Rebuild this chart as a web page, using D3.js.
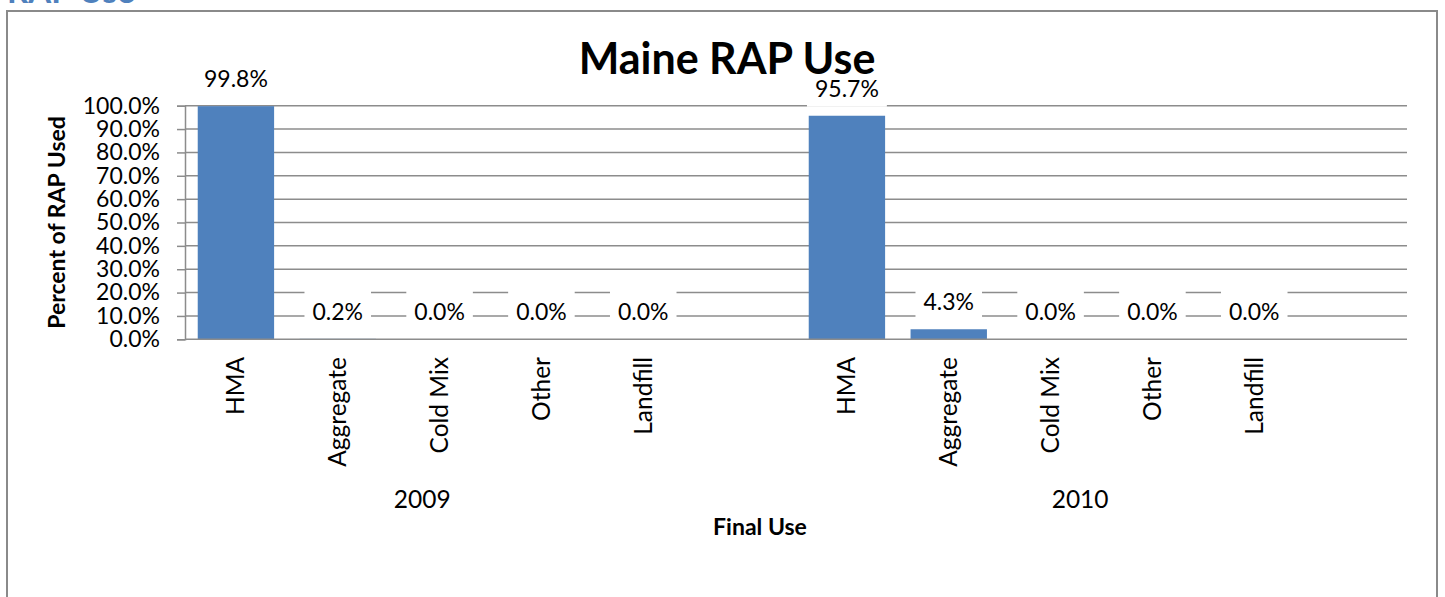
<!DOCTYPE html>
<html>
<head>
<meta charset="utf-8">
<script src="https://cdn.jsdelivr.net/npm/d3@7"></script>
<style>
  body { margin: 0; background: #fff; }
  svg text { font-family: Lato, "Open Sans", sans-serif; fill: #000; }
</style>
</head>
<body>
<svg id="chart_svg"></svg>
<script>
// values
var years = ["2009", "2010"];
var uses = ["HMA", "Aggregate", "Cold Mix", "Other", "Landfill", ""];   // last slot is empty in each year
var pct2009 = [99.8, 0.2, 0.0, 0.0, 0.0];
var pct2010 = [95.7, 4.3, 0.0, 0.0, 0.0];
var yTicks = [0, 10, 20, 30, 40, 50, 60, 70, 80, 90, 100];
var yearLabelSlot = [2.33, 8.79];   // where Excel put the year label, in category slots

var width = 1445, height = 597;
var plotLeft = 185, plotRight = 1407, plotTop = 105.7, plotBottom = 339.3;
var gridColor = "#8c8c8c";
var barColor = "#4f81bd";

var svg = d3.select("#chart_svg")
    .attr("width", width)
    .attr("height", height);

// flat list of categories: year|use
var data = [];
years.forEach(function (yr, yi) {
    var vals = yi == 0 ? pct2009 : pct2010;
    uses.forEach(function (u, ui) {
        data.push({
            key: yr + "|" + ui,
            year: yr,
            use: u,
            value: ui < vals.length ? vals[ui] : null
        });
    });
});

var x = d3.scaleBand()
    .domain(data.map(function (d) { return d.key; }))
    .range([plotLeft, plotRight])
    .paddingInner(0.25)
    .paddingOuter(0.125);

var slot = (plotRight - plotLeft) / data.length;

var y = d3.scaleLinear()
    .domain([0, 100])
    .range([plotBottom, plotTop]);

// document heading cut off at the top of the page
svg.append("text")
    .attr("x", 7)
    .attr("y", 3)
    .style("font-weight", "bold")
    .style("font-size", "33px")
    .style("fill", "#4f81bd")
    .text("RAP Use");

// chart frame
svg.append("rect")
    .attr("x", 7)
    .attr("y", 11)
    .attr("width", 1430)
    .attr("height", 620)
    .attr("fill", "#fff")
    .attr("stroke", "#8a8a8a")
    .attr("stroke-width", 2);

// gridlines
svg.append("g")
    .attr("class", "grid")
    .selectAll("line")
    .data(yTicks.filter(function (t) { return t > 0; }))
    .enter().append("line")
    .attr("x1", plotLeft)
    .attr("x2", plotRight)
    .attr("y1", function (d) { return y(d); })
    .attr("y2", function (d) { return y(d); })
    .attr("stroke", gridColor)
    .attr("stroke-width", 1.5);

// y axis
var yAxis = svg.append("g")
    .attr("class", "y axis")
    .attr("transform", "translate(" + plotLeft + ",0)")
    .call(d3.axisLeft(y)
        .tickValues(yTicks)
        .tickSize(8)
        .tickPadding(17)
        .tickFormat(function (d) { return d.toFixed(1) + "%"; }));
yAxis.select(".domain").attr("stroke", gridColor).attr("stroke-width", 1.5);
yAxis.selectAll(".tick line").attr("stroke", gridColor).attr("stroke-width", 1.5);
yAxis.selectAll(".tick text")
    .style("font-size", "23px")
    .attr("fill", "#000");

// bars
var bars = data.filter(function (d) { return d.value !== null; });

svg.selectAll(".bar")
    .data(bars)
    .enter().append("rect")
    .attr("class", "bar")
    .attr("x", function (d) { return x(d.key); })
    .attr("y", function (d) { return y(d.value); })
    .attr("width", x.bandwidth())
    .attr("height", function (d) { return y(0) - y(d.value); })
    .attr("fill", barColor);

// x axis line
svg.append("line")
    .attr("x1", plotLeft)
    .attr("x2", plotRight)
    .attr("y1", y(0))
    .attr("y2", y(0))
    .attr("stroke", gridColor)
    .attr("stroke-width", 1.5);

// data labels with white boxes that hide the gridlines
var labels = svg.selectAll(".dlabel")
    .data(bars)
    .enter().append("g")
    .attr("class", "dlabel")
    .attr("transform", function (d) {
        return "translate(" + (x(d.key) + x.bandwidth() / 2) + "," + (y(d.value) - 19) + ")";
    });

labels.append("rect").attr("fill", "#fff");
labels.append("text")
    .attr("text-anchor", "middle")
    .style("font-size", "23px")
    .text(function (d) { return d.value.toFixed(1) + "%"; });

labels.each(function () {
    var g = d3.select(this);
    var w = g.select("text").node().getComputedTextLength();
    g.select("rect")
        .attr("x", -w / 2 - 8)
        .attr("y", -32)
        .attr("width", w + 16)
        .attr("height", 42);
});

// category labels (rotated)
svg.selectAll(".catlabel")
    .data(data.filter(function (d) { return d.use != ""; }))
    .enter().append("text")
    .attr("class", "catlabel")
    .attr("transform", function (d) {
        return "translate(" + (x(d.key) + x.bandwidth() / 2) + ",357) rotate(-90)";
    })
    .attr("text-anchor", "end")
    .attr("dy", "0.35em")
    .style("font-size", "24.5px")
    .text(function (d) { return d.use; });

// year labels
svg.selectAll(".yearlabel")
    .data(years)
    .enter().append("text")
    .attr("class", "yearlabel")
    .attr("x", function (d, i) { return plotLeft + yearLabelSlot[i] * slot; })
    .attr("y", 508)
    .attr("text-anchor", "middle")
    .style("font-size", "24.5px")
    .text(function (d) { return d; });

// titles
svg.append("text")
    .attr("x", 727)
    .attr("y", 74)
    .attr("text-anchor", "middle")
    .style("font-weight", "bold")
    .style("font-size", "43px")
    .text("Maine RAP Use");

svg.append("text")
    .attr("x", 760)
    .attr("y", 535)
    .attr("text-anchor", "middle")
    .style("font-weight", "bold")
    .style("font-size", "23px")
    .text("Final Use");

svg.append("text")
    .attr("transform", "translate(57," + ((plotTop + plotBottom) / 2) + ") rotate(-90)")
    .attr("text-anchor", "middle")
    .attr("dy", "0.35em")
    .style("font-weight", "bold")
    .style("font-size", "23px")
    .text("Percent of RAP Used");
</script>
</body>
</html>
